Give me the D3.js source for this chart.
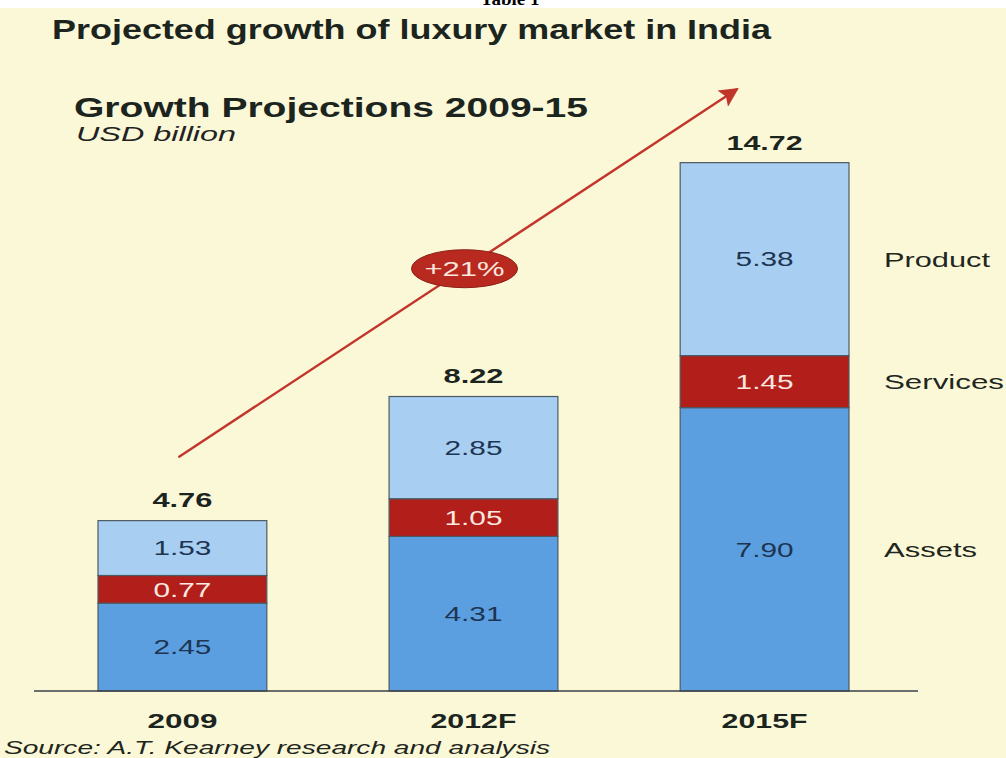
<!DOCTYPE html>
<html>
<head>
<meta charset="utf-8">
<script src="https://cdn.jsdelivr.net/npm/d3@7"></script>
<style>
  html, body { margin: 0; padding: 0; background: #ffffff; }
  svg { display: block; }
</style>
</head>
<body>
<svg id="chart" width="1006" height="758"></svg>
<script>
// ---- data ----
const years = ["2009", "2012F", "2015F"];
const assets = [2.45, 4.31, 7.90];
const services = [0.77, 1.05, 1.45];
const product = [1.53, 2.85, 5.38];
const totals = [4.76, 8.22, 14.72];
const seriesNames = ["Assets", "Services", "Product"];
const growthLabel = "+21%";
const titleText = "Projected growth of luxury market in India";
const subtitleText = "Growth Projections 2009-15";
const unitText = "USD billion";
const sourceText = "Source: A.T. Kearney research and analysis";

// ---- layout ----
const W = 1006, H = 758;
const baseY = 691, topY = 163;
const svg = d3.select("#chart");

const rows = years.map((yr, i) => ({ year: yr, Assets: assets[i], Services: services[i], Product: product[i], total: totals[i] }));

const x = d3.scaleBand().domain(years).range([98, 849]).paddingInner(0.42).paddingOuter(0);
const y = d3.scaleLinear().domain([0, d3.max(totals)]).range([baseY, topY]);

const colors = { Assets: "#5c9fe0", Services: "#b21f1b", Product: "#a8cff1" };
const labelColors = { Assets: "#1d3552", Services: "#fbe9e0", Product: "#1d3552" };

// background
svg.append("rect").attr("x", 0).attr("y", 0).attr("width", W).attr("height", H).attr("fill", "#ffffff");
svg.append("rect").attr("x", 0).attr("y", 8).attr("width", W).attr("height", H - 8).attr("fill", "#fbf8d8");

function fitText(sel, len) {
  sel.attr("textLength", len).attr("lengthAdjust", "spacingAndGlyphs");
  return sel;
}

// "Table 1" (cut off at top)
svg.append("text").attr("x", 510).attr("y", 5).attr("text-anchor", "middle")
  .attr("font-family", "Liberation Serif, Times New Roman, serif").attr("font-weight", "bold")
  .attr("font-size", 19).attr("fill", "#000").text("Table 1");

// titles
fitText(svg.append("text").attr("x", 52).attr("y", 39)
  .attr("font-family", "Liberation Sans, Arial, sans-serif").attr("font-weight", "bold")
  .attr("font-size", 28).attr("fill", "#1c241e").text(titleText), 719);

fitText(svg.append("text").attr("x", 74).attr("y", 117)
  .attr("font-family", "Liberation Sans, Arial, sans-serif").attr("font-weight", "bold")
  .attr("font-size", 27).attr("fill", "#1c241e").text(subtitleText), 514);

fitText(svg.append("text").attr("x", 76).attr("y", 141)
  .attr("font-family", "Liberation Sans, Arial, sans-serif").attr("font-style", "italic")
  .attr("font-size", 20).attr("fill", "#222").text(unitText), 160);

// stacked bars
const stack = d3.stack().keys(seriesNames);
const stacked = stack(rows);

const g = svg.append("g");
stacked.forEach(layer => {
  const key = layer.key;
  g.selectAll(null).data(layer).enter().append("rect")
    .attr("x", d => x(d.data.year))
    .attr("y", d => y(d[1]))
    .attr("width", x.bandwidth())
    .attr("height", d => y(d[0]) - y(d[1]))
    .attr("fill", colors[key])
    .attr("stroke", "#4d5a63")
    .attr("stroke-width", 1.2);
  g.selectAll(null).data(layer).enter().append("text")
    .attr("x", d => x(d.data.year) + x.bandwidth() / 2)
    .attr("y", d => (y(d[0]) + y(d[1])) / 2)
    .attr("dy", "0.36em")
    .attr("text-anchor", "middle")
    .attr("font-family", "Liberation Sans, Arial, sans-serif")
    .attr("font-size", 20)
    .attr("fill", labelColors[key])
    .attr("textLength", 58).attr("lengthAdjust", "spacingAndGlyphs")
    .text(d => d.data[key].toFixed(2));
});

// totals
g.selectAll(null).data(rows).enter().append("text")
  .attr("x", d => x(d.year) + x.bandwidth() / 2)
  .attr("y", d => y(d.total) - 13)
  .attr("text-anchor", "middle")
  .attr("font-family", "Liberation Sans, Arial, sans-serif")
  .attr("font-weight", "bold")
  .attr("font-size", 20)
  .attr("fill", "#1c241e")
  .attr("textLength", d => d.total >= 10 ? 76 : 60).attr("lengthAdjust", "spacingAndGlyphs")
  .text(d => d.total.toFixed(2));

// baseline
svg.append("line").attr("x1", 34).attr("x2", 918).attr("y1", baseY).attr("y2", baseY)
  .attr("stroke", "#3a4048").attr("stroke-width", 1.6);

// category labels
g.selectAll(null).data(years).enter().append("text")
  .attr("x", d => x(d) + x.bandwidth() / 2)
  .attr("y", 728)
  .attr("text-anchor", "middle")
  .attr("font-family", "Liberation Sans, Arial, sans-serif")
  .attr("font-weight", "bold")
  .attr("font-size", 20)
  .attr("fill", "#1c241e")
  .attr("textLength", d => d.length > 4 ? 86 : 70).attr("lengthAdjust", "spacingAndGlyphs")
  .text(d => d);

// series legend labels aligned to last bar's segments
const last = rows.length - 1;
const legendWidths = { Product: 106, Services: 120, Assets: 93 };
stacked.forEach(layer => {
  const d = layer[last];
  fitText(svg.append("text")
    .attr("x", x.range()[1] + 35)
    .attr("y", (y(d[0]) + y(d[1])) / 2)
    .attr("dy", "0.36em")
    .attr("font-family", "Liberation Sans, Arial, sans-serif")
    .attr("font-size", 21)
    .attr("fill", "#1e2620")
    .text(layer.key), legendWidths[layer.key]);
});

// growth arrow (annotation placed in data space)
const arrowStart = [x("2009") + x.bandwidth() / 2 - 4, y(6.52)];
const arrowEnd = [x("2015F") + 57, y(16.78)];
const defs = svg.append("defs");
defs.append("marker").attr("id", "ah").attr("viewBox", "0 0 10 10")
  .attr("refX", 9).attr("refY", 5).attr("markerWidth", 9).attr("markerHeight", 8)
  .attr("markerUnits", "strokeWidth").attr("orient", "auto")
  .append("path").attr("d", "M0,0 L10,5 L0,10 L2,5 Z").attr("fill", "#c2352a");
svg.append("line")
  .attr("x1", arrowStart[0]).attr("y1", arrowStart[1])
  .attr("x2", arrowEnd[0]).attr("y2", arrowEnd[1])
  .attr("stroke", "#c2352a").attr("stroke-width", 2.4)
  .attr("marker-end", "url(#ah)");

// growth bubble
const t = 0.512;
const cx = arrowStart[0] + t * (arrowEnd[0] - arrowStart[0]);
const cy = arrowStart[1] + t * (arrowEnd[1] - arrowStart[1]);
svg.append("ellipse").attr("cx", cx).attr("cy", cy).attr("rx", 53).attr("ry", 19)
  .attr("fill", "#b82a20").attr("stroke", "#8e1e16").attr("stroke-width", 1);
fitText(svg.append("text").attr("x", cx).attr("y", cy).attr("dy", "0.36em")
  .attr("text-anchor", "middle")
  .attr("font-family", "Liberation Sans, Arial, sans-serif")
  .attr("font-size", 21).attr("fill", "#fbe7df").text(growthLabel), 80);

// source
fitText(svg.append("text").attr("x", 4).attr("y", 754)
  .attr("font-family", "Liberation Sans, Arial, sans-serif").attr("font-style", "italic")
  .attr("font-size", 19).attr("fill", "#1e2620").text(sourceText), 546);
</script>
</body>
</html>
